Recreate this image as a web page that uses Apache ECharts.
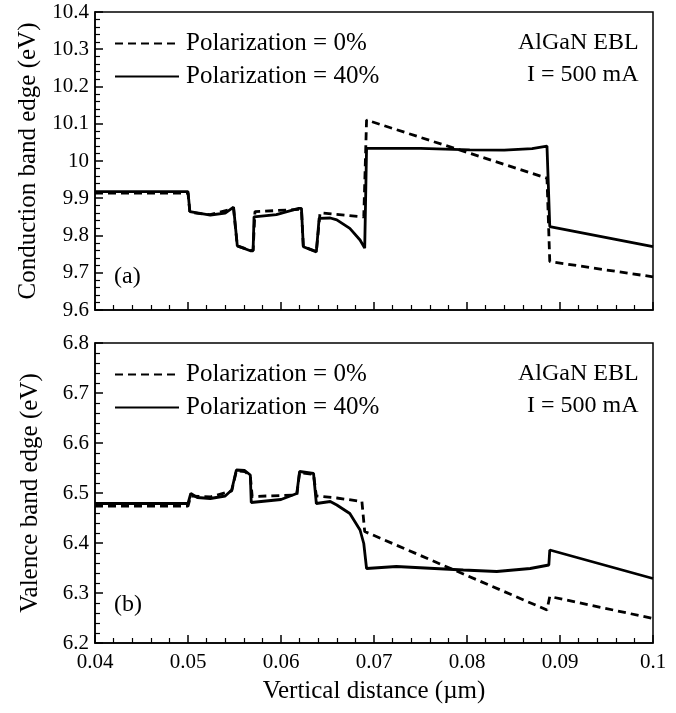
<!DOCTYPE html>
<html><head><meta charset="utf-8">
<script src="https://cdn.jsdelivr.net/npm/echarts@6/dist/echarts.min.js"></script>
<style>html,body{margin:0;padding:0;background:#fff}#c{width:676px;height:713px}</style>
</head><body><div id="c"></div>
<script>
const legendNames = ['Polarization = 0%', 'Polarization = 40%'];
const xTicks = [0.04, 0.05, 0.06, 0.07, 0.08, 0.09, 0.1];
const cbTicks = [9.6, 10.4, 0.1];
const vbTicks = [6.2, 6.8, 0.1];

// Conduction band, polarization 0% (dashed)
const cb0 = [[0.04,9.914],[0.0500,9.914],[0.0502,9.862],[0.0524,9.856],[0.0549,9.872],[0.0551,9.872],[0.0553,9.772],[0.0567,9.760],[0.0570,9.760],[0.0572,9.864],[0.0619,9.870],[0.0622,9.870],[0.0624,9.770],[0.0638,9.757],[0.0640,9.757],[0.0642,9.861],[0.0689,9.850],[0.0692,10.110],[0.0886,9.954],[0.0889,9.730],[0.1,9.689]];
// Conduction band, polarization 40% (solid)
const cb40 = [[0.04,9.918],[0.0500,9.918],[0.0502,9.864],[0.0524,9.855],[0.0540,9.860],[0.0549,9.876],[0.0551,9.876],[0.0553,9.772],[0.0567,9.759],[0.0570,9.759],[0.0571,9.850],[0.0595,9.856],[0.0619,9.873],[0.0622,9.873],[0.0624,9.770],[0.0638,9.756],[0.0640,9.756],[0.0641,9.846],[0.0653,9.847],[0.0660,9.842],[0.0674,9.819],[0.0685,9.788],[0.0690,9.766],[0.0692,10.034],[0.0750,10.034],[0.0803,10.030],[0.0840,10.029],[0.0870,10.033],[0.0886,10.040],[0.0889,9.824],[0.1,9.770]];
// Valence band, polarization 0% (dashed)
const vb0 = [[0.04,6.474],[0.0500,6.474],[0.0503,6.494],[0.0524,6.492],[0.0547,6.504],[0.0552,6.544],[0.0561,6.543],[0.0567,6.534],[0.0569,6.493],[0.0617,6.496],[0.0620,6.541],[0.0635,6.537],[0.0638,6.494],[0.0660,6.490],[0.0687,6.483],[0.0690,6.423],[0.0886,6.266],[0.0889,6.293],[0.1,6.249]];
// Valence band, polarization 40% (solid)
const vb40 = [[0.04,6.479],[0.0500,6.479],[0.0503,6.499],[0.0510,6.491],[0.0524,6.489],[0.0540,6.494],[0.0547,6.506],[0.0552,6.546],[0.0561,6.545],[0.0567,6.536],[0.0568,6.481],[0.0600,6.487],[0.0617,6.499],[0.0620,6.543],[0.0635,6.539],[0.0638,6.479],[0.0653,6.483],[0.0660,6.476],[0.0674,6.459],[0.0685,6.426],[0.0689,6.399],[0.0692,6.349],[0.0724,6.353],[0.0796,6.346],[0.0832,6.343],[0.0868,6.349],[0.0888,6.356],[0.0889,6.386],[0.1,6.329]];

const serif = '"Liberation Serif", "DejaVu Serif", serif';
const ink = '#000';

function xAxis(gi, showLabel) {
  return {
    type: 'value', gridIndex: gi, min: xTicks[0], max: xTicks[xTicks.length-1], interval: 0.01,
    axisLine: {show: true, lineStyle: {color: ink, width: 1.5}},
    axisTick: {show: true, inside: true, length: 8, lineStyle: {color: ink, width: 1.5}},
    minorTick: {show: true, splitNumber: 5, length: 5, lineStyle: {color: ink, width: 1.2}},
    splitLine: {show: false},
    axisLabel: {show: showLabel, color: ink, fontFamily: serif, fontSize: 21, margin: 9,
      formatter: v => String(+v.toFixed(3))},
    name: showLabel ? 'Vertical distance (µm)' : '', nameLocation: 'middle', nameGap: 36,
    nameTextStyle: {color: ink, fontFamily: serif, fontSize: 25}
  };
}
function yAxis(gi, t, name) {
  return {
    type: 'value', gridIndex: gi, min: t[0], max: t[1], interval: t[2],
    axisLine: {show: true, lineStyle: {color: ink, width: 1.5}},
    axisTick: {show: true, inside: true, length: 8, lineStyle: {color: ink, width: 1.5}},
    minorTick: {show: true, splitNumber: 5, length: 5, lineStyle: {color: ink, width: 1.2}},
    splitLine: {show: false},
    axisLabel: {color: ink, fontFamily: serif, fontSize: 21, margin: 6,
      formatter: v => String(+v.toFixed(2))},
    name: name, nameLocation: 'middle', nameGap: 52,
    nameTextStyle: {color: ink, fontFamily: serif, fontSize: 25}
  };
}
function series(name, data, gi, dashed) {
  return {
    name: name, type: 'line', xAxisIndex: gi, yAxisIndex: gi, data: data,
    symbol: 'none', animation: false, z: dashed ? 3 : 2,
    lineStyle: {color: ink, width: 2.8, type: dashed ? [8, 5] : 'solid'},
    itemStyle: {color: ink}
  };
}
function legend(top) {
  return {
    data: legendNames, orient: 'vertical', left: 114, top: top, itemWidth: 64, itemHeight: 14,
    itemGap: 8, selectedMode: false, padding: 0,
    itemStyle: {opacity: 0},
    textStyle: {color: ink, fontFamily: serif, fontSize: 25, padding: [0, 0, 0, 2]}
  };
}
function txt(x, y, s) {
  return {type: 'text', left: x, top: y, style: {text: s, fill: ink, font: '24px ' + serif}};
}

const chart = echarts.init(document.getElementById('c'), null, {renderer: 'canvas'});
chart.setOption({
  backgroundColor: '#fff',
  animation: false,
  grid: [
    {left: 95, top: 12, width: 558, height: 298, show: true, borderColor: ink, borderWidth: 1.5},
    {left: 95, top: 343, width: 558, height: 300, show: true, borderColor: ink, borderWidth: 1.5}
  ],
  xAxis: [xAxis(0, false), xAxis(1, true)],
  yAxis: [yAxis(0, cbTicks, 'Conduction band edge (eV)'), yAxis(1, vbTicks, 'Valence band edge (eV)')],
  legend: [legend(31), legend(362)],
  series: [
    series(legendNames[0], cb0, 0, true),
    series(legendNames[1], cb40, 0, false),
    series(legendNames[0], vb0, 1, true),
    series(legendNames[1], vb40, 1, false)
  ],
  graphic: [
    txt(518, 31, 'AlGaN EBL'), txt(527, 63, 'I = 500 mA'), txt(114, 265, '(a)'),
    txt(518, 362, 'AlGaN EBL'), txt(527, 394, 'I = 500 mA'), txt(114, 593, '(b)')
  ]
});
</script></body></html>
